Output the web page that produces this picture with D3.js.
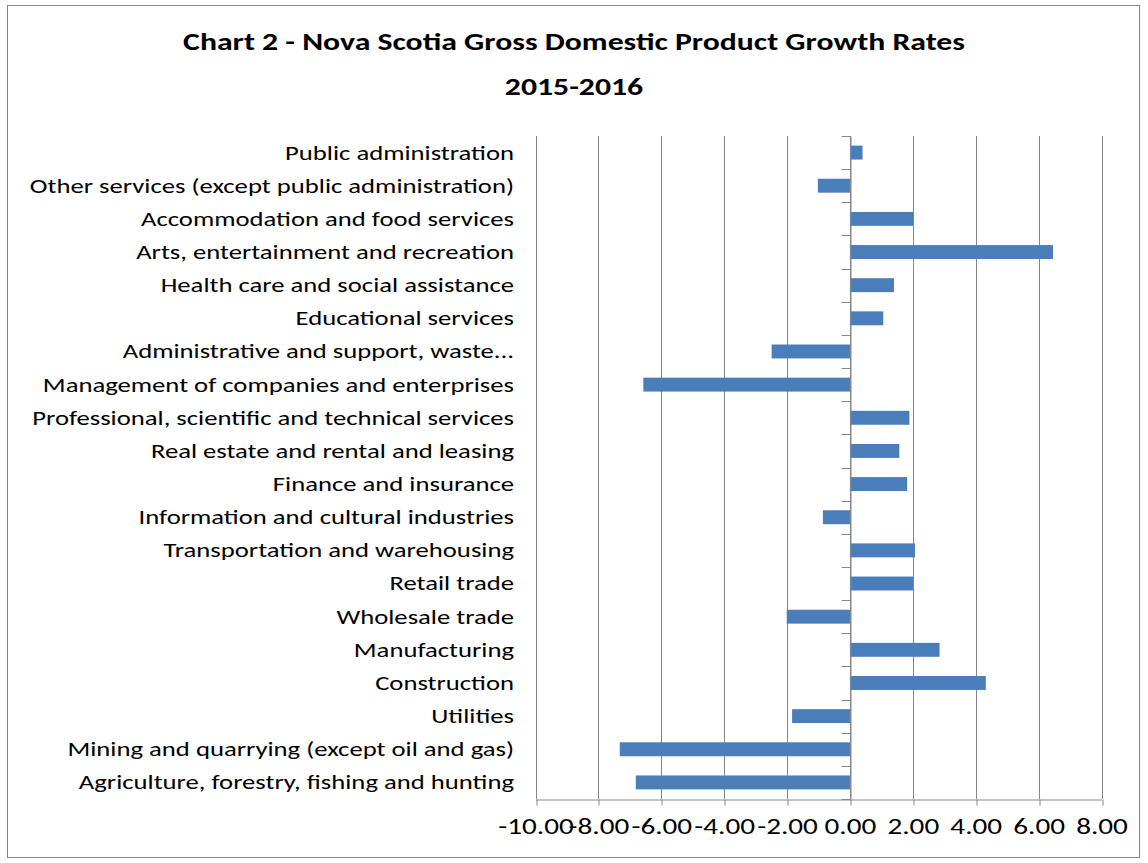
<!DOCTYPE html>
<html>
<head>
<meta charset="utf-8">
<script src="https://cdn.jsdelivr.net/npm/d3@7"></script>
<style>
  body { margin: 0; background: #fff; }
  svg { font-family: Carlito, Calibri, Lato, sans-serif; }
</style>
</head>
<body>
<div id="chart"></div>
<script>
// categories top to bottom, as shown
var categories = [
  "Public administration",
  "Other services (except public administration)",
  "Accommodation and food services",
  "Arts, entertainment and recreation",
  "Health care and social assistance",
  "Educational services",
  "Administrative and support, waste...",
  "Management of companies and enterprises",
  "Professional, scientific and technical services",
  "Real estate and rental and leasing",
  "Finance and insurance",
  "Information and cultural industries",
  "Transportation and warehousing",
  "Retail trade",
  "Wholesale trade",
  "Manufacturing",
  "Construction",
  "Utilities",
  "Mining and quarrying (except oil and gas)",
  "Agriculture, forestry, fishing and hunting"
];

// growth rates (%)
var growth = [0.40, -1.02, 2.01, 6.46, 1.40, 1.06, -2.49, -6.57, 1.89, 1.57,
              1.82, -0.86, 2.07, 2.01, -2.01, 2.85, 4.32, -1.84, -7.32, -6.81];

var xTicks = [-10, -8, -6, -4, -2, 0, 2, 4, 6, 8];

var titleLines = ["Chart 2 - Nova Scotia Gross Domestic Product Growth Rates", "2015-2016"];

var svgWidth = 1148;
var svgHeight = 863;

var plot = { left: 535.5, right: 1101.5, top: 136, bottom: 799 };
var gridColor = "#868686";
var stretch = 1.27; // the original text is drawn wide

var svg = d3.select("#chart")
  .append("svg")
  .attr("width", svgWidth)
  .attr("height", svgHeight);

// chart frame
svg.append("rect")
  .attr("x", 7.5)
  .attr("y", 5.5)
  .attr("width", 1132)
  .attr("height", 852)
  .attr("fill", "#fff")
  .attr("stroke", gridColor)
  .attr("stroke-width", 1);

var data = categories.map(function(c, i) {
  return { name: c, value: growth[i] };
});

var x = d3.scaleLinear()
  .domain([-10, 8])
  .range([plot.left, plot.right]);

var y = d3.scaleBand()
  .domain(categories)
  .range([plot.top, plot.bottom])
  .padding(0);

// vertical gridlines
svg.append("g")
  .selectAll("line")
  .data(xTicks)
  .enter()
  .append("line")
  .attr("x1", d => Math.round(x(d)) + 0.5)
  .attr("x2", d => Math.round(x(d)) + 0.5)
  .attr("y1", plot.top)
  .attr("y2", plot.bottom)
  .attr("stroke", gridColor)
  .attr("stroke-width", 1);

// bottom axis
var fmt = d3.format(".2f");
var bottomAxis = d3.axisBottom(x)
  .tickValues(xTicks)
  .tickFormat(d => fmt(d).replace("\u2212", "-"))
  .tickSizeInner(6)
  .tickSizeOuter(0)
  .tickPadding(12);

var xAxisG = svg.append("g")
  .attr("transform", `translate(0, ${plot.bottom + 0.5})`)
  .call(bottomAxis);

xAxisG.select(".domain").attr("stroke", gridColor);
xAxisG.selectAll(".tick line")
  .attr("stroke", gridColor)
  .attr("transform", function(d) {
    return `translate(${Math.round(x(d)) + 0.5 - x(d)}, 0)`;
  });
xAxisG.selectAll(".tick text")
  .attr("fill", "#000")
  .attr("transform", `scale(${stretch}, 1)`)
  .style("font-size", "23px")
  .style("font-family", "Carlito, Calibri, Lato, sans-serif");

// bars
var barH = y.step() * 0.42;
svg.append("g")
  .selectAll("rect")
  .data(data)
  .enter()
  .append("rect")
  .attr("x", d => x(Math.min(0, d.value)))
  .attr("width", d => Math.abs(x(d.value) - x(0)))
  .attr("y", d => y(d.name) + (y.step() - barH) / 2)
  .attr("height", barH)
  .attr("fill", "#4a7ebb");

// vertical (category) axis at zero
var zeroX = Math.round(x(0)) + 0.5;
var leftAxis = d3.axisLeft(y)
  .tickSizeInner(0)
  .tickSizeOuter(0)
  .tickFormat("");
var yAxisG = svg.append("g")
  .attr("transform", `translate(${zeroX}, 0)`)
  .call(leftAxis);
yAxisG.select(".domain").attr("stroke", gridColor);

// category separator ticks
svg.append("g")
  .selectAll("line")
  .data(d3.range(categories.length + 1))
  .enter()
  .append("line")
  .attr("x1", zeroX - 9)
  .attr("x2", zeroX)
  .attr("y1", i => Math.round(plot.top + i * y.step()) + 0.5)
  .attr("y2", i => Math.round(plot.top + i * y.step()) + 0.5)
  .attr("stroke", gridColor);

// category labels, placed at the low side of the plot
svg.append("g")
  .selectAll("text")
  .data(categories)
  .enter()
  .append("text")
  .attr("transform", d => `translate(514, ${y(d) + y.bandwidth() / 2}) scale(${stretch}, 1)`)
  .attr("dy", "0.33em")
  .attr("text-anchor", "end")
  .style("font-size", "21px")
  .attr("fill", "#000")
  .text(d => d);

// title
svg.append("g")
  .selectAll("text")
  .data(titleLines)
  .enter()
  .append("text")
  .attr("transform", (d, i) => `translate(574, ${50 + i * 45}) scale(${stretch}, 1)`)
  .attr("text-anchor", "middle")
  .style("font-size", "25px")
  .style("font-weight", "bold")
  .attr("fill", "#000")
  .text(d => d);
</script>
</body>
</html>
